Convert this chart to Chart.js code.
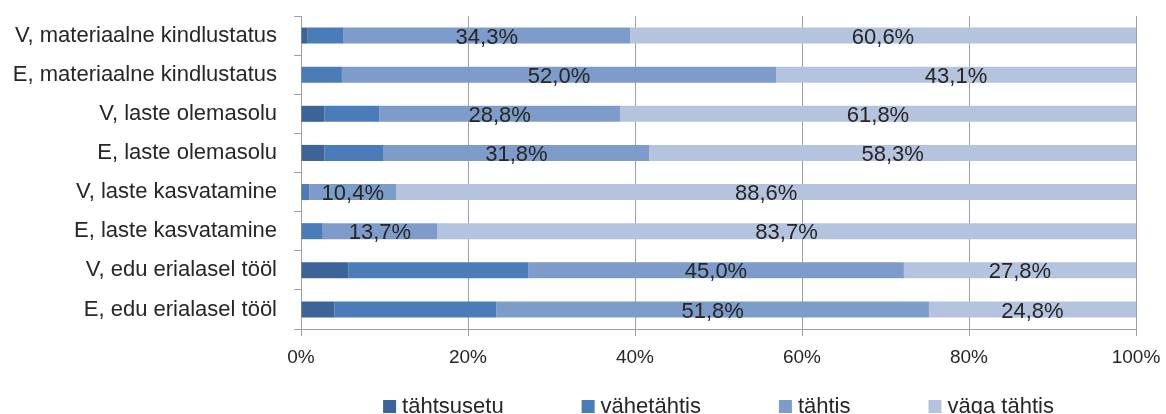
<!DOCTYPE html>
<html>
<head>
<meta charset="utf-8">
<script src="https://cdn.jsdelivr.net/npm/chart.js@4/dist/chart.umd.min.js"></script>
<style>
  html, body { margin: 0; padding: 0; background: #fff; overflow: hidden; }
  #wrap { width: 1166px; height: 414px; }
</style>
</head>
<body>
<div id="wrap"><canvas id="myChart"></canvas></div>
<script>
const categories = [
    "V, materiaalne kindlustatus",
    "E, materiaalne kindlustatus",
    "V, laste olemasolu",
    "E, laste olemasolu",
    "V, laste kasvatamine",
    "E, laste kasvatamine",
    "V, edu erialasel tööl",
    "E, edu erialasel tööl",
];
const seriesNames = ["tähtsusetu", "vähetähtis", "tähtis", "väga tähtis"];
const tahtsusetu = [0.8, 0, 2.8, 2.8, 0, 0, 5.7, 4.0];
const vahetahtis = [4.3, 4.9, 6.6, 7.1, 1.0, 2.6, 21.5, 19.4];
const tahtis = [34.3, 52.0, 28.8, 31.8, 10.4, 13.7, 45.0, 51.8];
const vagaTahtis = [60.6, 43.1, 61.8, 58.3, 88.6, 83.7, 27.8, 24.8];
const xTicks = [0, 20, 40, 60, 80, 100];

const colors = ["#3c6498", "#4a7cb9", "#7d9cc9", "#b4c3de"];
const textColor = "#262626";
const fontFamily = '"Liberation Sans", Arial, sans-serif';

// labels only on the two last series, like the original
const labelledSeries = [2, 3];

const segmentLabels = {
    id: "segmentLabels",
    afterDatasetsDraw(chart) {
        const ctx = chart.ctx;
        ctx.save();
        ctx.font = "22px " + fontFamily;
        ctx.fillStyle = textColor;
        ctx.textAlign = "center";
        ctx.textBaseline = "middle";
        labelledSeries.forEach((di) => {
            const meta = chart.getDatasetMeta(di);
            meta.data.forEach((bar, i) => {
                const v = chart.data.datasets[di].data[i];
                const cx = (bar.x + bar.base) / 2;
                ctx.fillText(v.toFixed(1).replace(".", ",") + "%", cx, bar.y + 2);
            });
        });
        ctx.restore();
    },
};

const bottomLegend = {
    id: "bottomLegend",
    afterDraw(chart) {
        const ctx = chart.ctx;
        const area = chart.chartArea;
        ctx.save();
        ctx.font = "22px " + fontFamily;
        const box = 13;
        const gap = 78;
        const items = chart.data.datasets.map((ds) => ({
            text: ds.label,
            color: ds.backgroundColor,
            w: box + 6 + ctx.measureText(ds.label).width,
        }));
        let total = gap * (items.length - 1);
        items.forEach((it) => (total += it.w));
        let x = (area.left + area.right) / 2 - total / 2;
        const baseY = 413;
        items.forEach((it) => {
            ctx.fillStyle = it.color;
            ctx.fillRect(x, baseY - 13, box, box);
            ctx.fillStyle = textColor;
            ctx.textAlign = "left";
            ctx.textBaseline = "alphabetic";
            ctx.fillText(it.text, x + box + 6, baseY);
            x += it.w + gap;
        });
        ctx.restore();
    },
};

const ctx = document.getElementById("myChart").getContext("2d");
const myChart = new Chart(ctx, {
    type: "bar",
    data: {
        labels: categories,
        datasets: [tahtsusetu, vahetahtis, tahtis, vagaTahtis].map((d, i) => ({
            label: seriesNames[i],
            data: d,
            backgroundColor: colors[i],
            borderWidth: 0,
            categoryPercentage: 0.41,
            barPercentage: 1,
        })),
    },
    plugins: [segmentLabels, bottomLegend],
    options: {
        indexAxis: "y",
        responsive: true,
        maintainAspectRatio: false,
        animation: false,
        layout: {
            padding: { top: 16, right: 30, bottom: 35, left: 0 },
        },
        plugins: {
            legend: { display: false },
            tooltip: { enabled: false },
        },
        scales: {
            x: {
                stacked: true,
                min: 0,
                max: 100,
                afterBuildTicks: (scale) => {
                    scale.ticks = xTicks.map((v) => ({ value: v }));
                },
                afterFit: (scale) => {
                    scale.height = 50;
                    scale.paddingLeft = 0;
                    scale.paddingRight = 0;
                },
                grid: {
                    color: "#a0a0a0",
                    lineWidth: 1,
                    tickLength: 7,
                    drawTicks: true,
                },
                border: { color: "#a0a0a0" },
                ticks: {
                    padding: 10,
                    color: textColor,
                    font: { family: fontFamily, size: 19 },
                    callback: (v) => v + "%",
                },
            },
            y: {
                stacked: true,
                afterFit: (scale) => {
                    scale.width = 301;
                    // tick padding should not push the plot down
                    scale.paddingTop = 0;
                    scale.paddingBottom = 0;
                },
                grid: {
                    drawOnChartArea: false,
                    offset: true,
                    tickLength: 7,
                    color: "#a0a0a0",
                },
                border: { color: "#a0a0a0" },
                ticks: {
                    padding: 17,
                    color: textColor,
                    font: { family: fontFamily, size: 22 },
                },
            },
        },
    },
});
</script>
</body>
</html>
